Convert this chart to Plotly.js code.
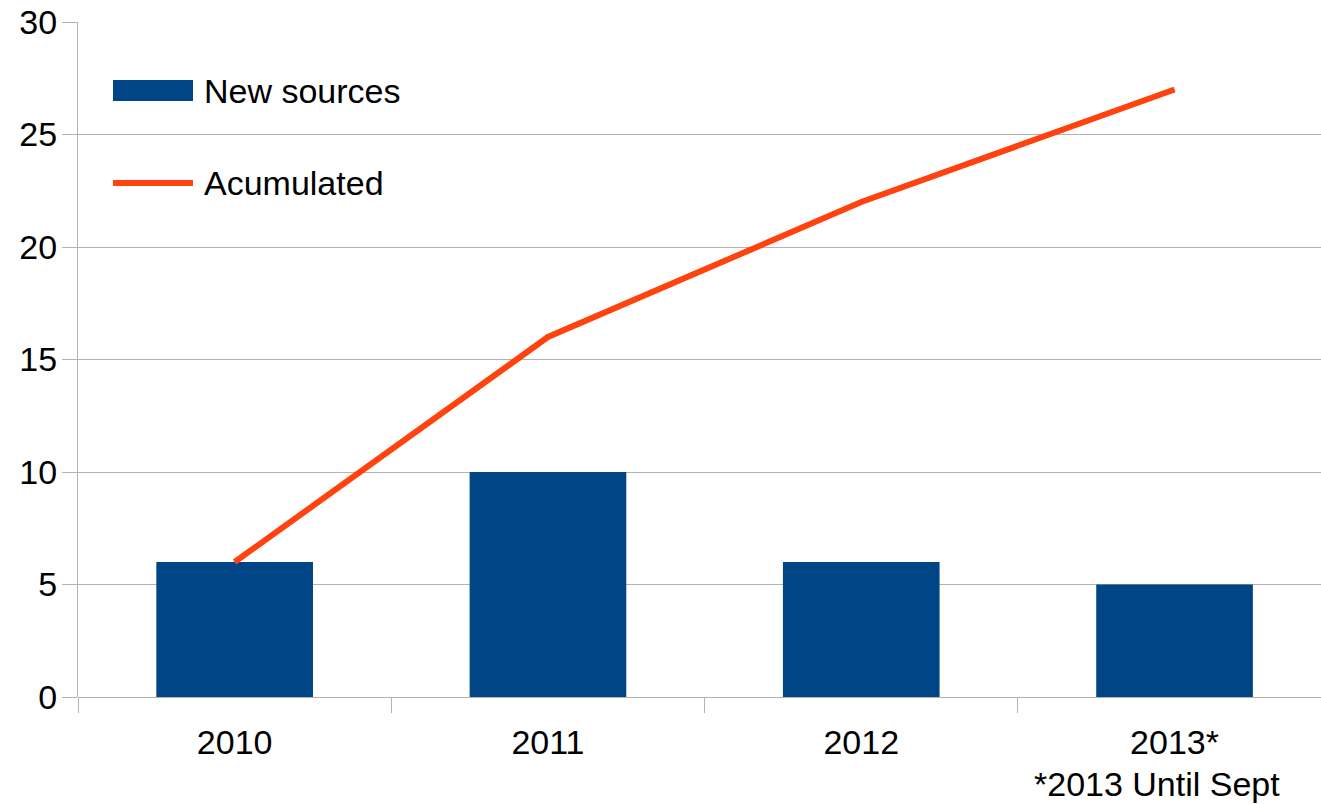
<!DOCTYPE html>
<html>
<head>
<meta charset="utf-8">
<script src="https://cdn.plot.ly/plotly-3.0.1.min.js"></script>
<style>
html,body{margin:0;padding:0;background:#fff;}
#chart{width:1321px;height:804px;}
</style>
</head>
<body>
<div id="chart"></div>
<script>
// ---- data ----
const categories = ["2010", "2011", "2012", "2013*"];
const newSources = [6, 10, 6, 5];
const accumulated = [6, 16, 22, 27];
const seriesNames = ["New sources", "Acumulated"];
const yTicks = [0, 5, 10, 15, 20, 25, 30];
const footnote = "*2013 Until Sept";

const barColor = "#004586";
const lineColor = "#ff420e";
const gridColor = "#b3b3b3";
const font = "'Liberation Sans', Arial, sans-serif";

const traces = [
  {
    type: "bar",
    name: seriesNames[0],
    x: categories,
    y: newSources,
    width: 0.5,
    marker: {color: barColor, line: {width: 0}},
    hoverinfo: "x+y"
  },
  {
    type: "scatter",
    mode: "lines",
    name: seriesNames[1],
    x: categories,
    y: accumulated,
    line: {color: lineColor, width: 6},
    hoverinfo: "x+y"
  }
];

// plot area: left 78px, right at window edge (category slots of 313.3px)
const plotW = 1321 - 78;
const slot = 313.3;
const xMax = -0.5 + plotW / slot;

const layout = {
  width: 1321,
  height: 804,
  margin: {l: 78, r: 0, t: 22, b: 107, pad: 0},
  paper_bgcolor: "#ffffff",
  plot_bgcolor: "#ffffff",
  showlegend: false,
  font: {family: font, size: 34, color: "#000000"},
  xaxis: {
    type: "category",
    range: [-0.5, xMax],
    tickson: "boundaries",
    ticks: "outside",
    ticklen: 15,
    tickwidth: 1,
    tickcolor: gridColor,
    showgrid: false,
    showline: false,
    zeroline: false,
    tickfont: {family: font, size: 34, color: "#000"},
    ticklabelstandoff: 22,
    fixedrange: true
  },
  yaxis: {
    range: [0, 30],
    tickvals: yTicks,
    ticktext: yTicks.map(String),
    ticks: "outside",
    ticklen: 15,
    tickwidth: 1,
    tickcolor: gridColor,
    showgrid: true,
    gridcolor: gridColor,
    gridwidth: 1,
    showline: true,
    linecolor: gridColor,
    linewidth: 1,
    zeroline: true,
    zerolinecolor: gridColor,
    zerolinewidth: 1,
    tickfont: {family: font, size: 34, color: "#000"},
    ticklabelstandoff: -2,
    fixedrange: true
  },
  shapes: [
    // legend swatches
    {type: "rect", xref: "paper", yref: "paper",
     x0: (113 - 78) / plotW, x1: (193 - 78) / plotW,
     y0: (697 - 101) / 675, y1: (697 - 80) / 675,
     fillcolor: barColor, line: {width: 0}},
    {type: "line", xref: "paper", yref: "paper",
     x0: (113 - 78) / plotW, x1: (193 - 78) / plotW,
     y0: (697 - 183) / 675, y1: (697 - 183) / 675,
     line: {color: lineColor, width: 6}}
  ],
  annotations: [
    {xref: "paper", yref: "paper", x: (202 - 78) / plotW, y: (697 - 91) / 675,
     xanchor: "left", yanchor: "middle", showarrow: false,
     text: seriesNames[0], font: {family: font, size: 34, color: "#000"}},
    {xref: "paper", yref: "paper", x: (202 - 78) / plotW, y: (697 - 183) / 675,
     xanchor: "left", yanchor: "middle", showarrow: false,
     text: seriesNames[1], font: {family: font, size: 34, color: "#000"}},
    {xref: "x", yref: "paper", x: categories[3], y: 0, xshift: -18, yshift: -66,
     xanchor: "center", yanchor: "top", showarrow: false,
     text: footnote, font: {family: font, size: 34, color: "#000"}}
  ]
};

Plotly.newPlot("chart", traces, layout, {displayModeBar: false, staticPlot: true});
</script>
</body>
</html>
